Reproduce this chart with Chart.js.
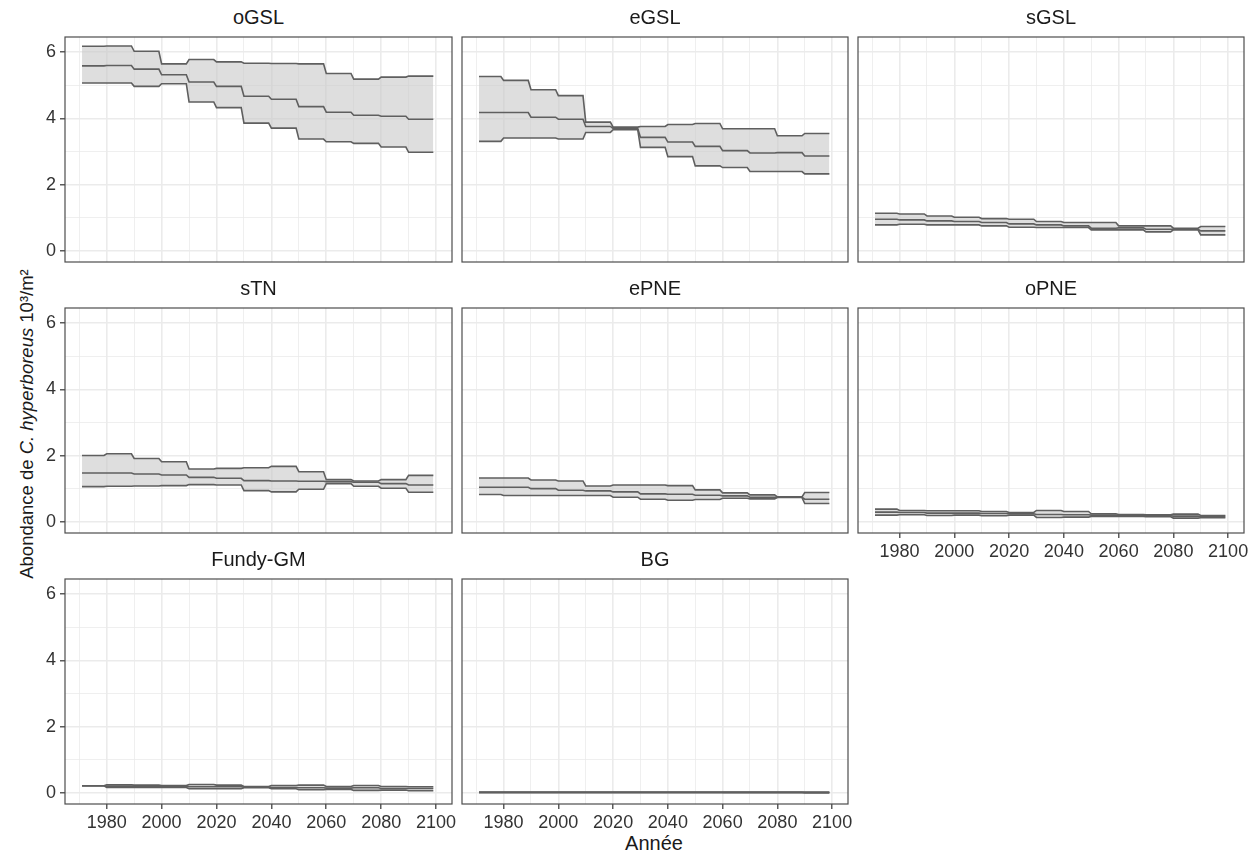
<!DOCTYPE html>
<html>
<head>
<meta charset="utf-8">
<script src="https://cdn.jsdelivr.net/npm/chart.js@4.4.1/dist/chart.umd.min.js"></script>
<style>
  body { margin: 0; background: #fff; width: 1257px; height: 856px; position: relative; overflow: hidden;
         font-family: "Liberation Sans", Arial, sans-serif; }
  canvas { position: absolute; }
  .strip { position: absolute; text-align: center; font-size: 20px; line-height: 20px; color: #1a1a1a; }
  .ytitle { position: absolute; left: 27px; top: 424px; transform: translate(-50%, -50%) rotate(-90deg);
            white-space: nowrap; font-size: 18.5px; color: #1a1a1a; }
  .xtitle { position: absolute; left: 654px; top: 843px; transform: translate(-50%, -50%);
            font-size: 20px; color: #1a1a1a; }
</style>
</head>
<body>
<div class="ytitle">Abondance de <i>C. hyperboreus</i> 10³/m²</div>
<div class="xtitle">Année</div>
<script>
// decade blocks (first one is partial)
const decadeStart = [1971, 1980, 1990, 2000, 2010, 2020, 2030, 2040, 2050, 2060, 2070, 2080, 2090];
const decadeEnd   = [1979, 1989, 1999, 2009, 2019, 2029, 2039, 2049, 2059, 2069, 2079, 2089, 2099];

const xTicks = [1970, 1980, 1990, 2000, 2010, 2020, 2030, 2040, 2050, 2060, 2070, 2080, 2090, 2100];
const yTicks = [0, 1, 2, 3, 4, 5, 6];

const oGSLHigh = [6.18, 6.19, 6.03, 5.65, 5.78, 5.71, 5.67, 5.66, 5.65, 5.36, 5.19, 5.25, 5.28];
const oGSLMean = [5.59, 5.60, 5.49, 5.32, 5.10, 4.97, 4.67, 4.58, 4.36, 4.19, 4.10, 4.07, 3.98];
const oGSLLow  = [5.07, 5.07, 4.97, 5.05, 4.50, 4.33, 3.86, 3.71, 3.38, 3.30, 3.25, 3.14, 2.98];

const eGSLHigh = [5.27, 5.15, 4.87, 4.69, 3.89, 3.74, 3.76, 3.82, 3.85, 3.69, 3.69, 3.48, 3.55];
const eGSLMean = [4.18, 4.18, 4.04, 3.98, 3.76, 3.70, 3.43, 3.29, 3.16, 3.03, 2.96, 2.97, 2.87];
const eGSLLow  = [3.31, 3.41, 3.41, 3.38, 3.58, 3.66, 3.13, 2.85, 2.57, 2.52, 2.40, 2.40, 2.33];

const sGSLHigh = [1.14, 1.12, 1.06, 1.02, 0.98, 0.96, 0.89, 0.86, 0.86, 0.76, 0.76, 0.69, 0.74];
const sGSLMean = [0.96, 0.94, 0.91, 0.89, 0.86, 0.82, 0.79, 0.76, 0.69, 0.70, 0.66, 0.66, 0.61];
const sGSLLow  = [0.79, 0.81, 0.79, 0.79, 0.76, 0.72, 0.71, 0.71, 0.64, 0.64, 0.58, 0.64, 0.49];

const sTNHigh = [2.01, 2.06, 1.92, 1.82, 1.60, 1.62, 1.64, 1.68, 1.52, 1.28, 1.24, 1.28, 1.41];
const sTNMean = [1.48, 1.48, 1.45, 1.42, 1.35, 1.32, 1.25, 1.24, 1.23, 1.22, 1.20, 1.16, 1.12];
const sTNLow  = [1.07, 1.08, 1.09, 1.10, 1.13, 1.12, 0.95, 0.91, 0.99, 1.16, 1.08, 1.02, 0.90];

const ePNEHigh = [1.33, 1.33, 1.27, 1.24, 1.09, 1.12, 1.12, 1.10, 0.97, 0.88, 0.82, 0.76, 0.89];
const ePNEMean = [1.05, 1.05, 1.01, 0.96, 0.94, 0.91, 0.85, 0.84, 0.81, 0.79, 0.75, 0.75, 0.69];
const ePNELow  = [0.83, 0.80, 0.80, 0.80, 0.80, 0.75, 0.69, 0.66, 0.68, 0.72, 0.70, 0.74, 0.56];

const oPNEHigh = [0.39, 0.35, 0.34, 0.34, 0.32, 0.29, 0.35, 0.32, 0.25, 0.23, 0.22, 0.24, 0.20];
const oPNEMean = [0.30, 0.29, 0.27, 0.27, 0.26, 0.25, 0.23, 0.22, 0.21, 0.20, 0.19, 0.18, 0.17];
const oPNELow  = [0.21, 0.22, 0.20, 0.21, 0.19, 0.21, 0.14, 0.15, 0.17, 0.17, 0.16, 0.12, 0.13];

const fundyHigh = [0.22, 0.25, 0.24, 0.23, 0.26, 0.24, 0.20, 0.23, 0.24, 0.20, 0.23, 0.20, 0.19];
const fundyMean = [0.22, 0.21, 0.21, 0.21, 0.19, 0.19, 0.18, 0.17, 0.16, 0.15, 0.16, 0.14, 0.14];
const fundyLow  = [0.22, 0.17, 0.17, 0.17, 0.13, 0.13, 0.16, 0.13, 0.10, 0.11, 0.08, 0.09, 0.07];

const bgHigh = [0.02, 0.02, 0.02, 0.02, 0.02, 0.02, 0.02, 0.02, 0.02, 0.03, 0.03, 0.03, 0.03];
const bgMean = [0.02, 0.02, 0.02, 0.02, 0.02, 0.02, 0.02, 0.02, 0.02, 0.02, 0.02, 0.02, 0.015];
const bgLow  = [0.02, 0.02, 0.02, 0.02, 0.02, 0.02, 0.02, 0.02, 0.02, 0.01, 0.01, 0.01, 0.005];

const regions = [
  { name: 'oGSL',     high: oGSLHigh,  mean: oGSLMean,  low: oGSLLow },
  { name: 'eGSL',     high: eGSLHigh,  mean: eGSLMean,  low: eGSLLow },
  { name: 'sGSL',     high: sGSLHigh,  mean: sGSLMean,  low: sGSLLow },
  { name: 'sTN',      high: sTNHigh,   mean: sTNMean,   low: sTNLow },
  { name: 'ePNE',     high: ePNEHigh,  mean: ePNEMean,  low: ePNELow },
  { name: 'oPNE',     high: oPNEHigh,  mean: oPNEMean,  low: oPNELow },
  { name: 'Fundy-GM', high: fundyHigh, mean: fundyMean, low: fundyLow },
  { name: 'BG',       high: bgHigh,    mean: bgMean,    low: bgLow }
];

// facet grid geometry
const colLeft = [65, 462, 858];
const colWidth = [387, 386, 386];
const rowTop = [37, 308, 579];
const panelH = 225;
const padL = 60, padR = 26, padT = 4, padB = 36;

Chart.defaults.font.family = "'Liberation Sans', Arial, sans-serif";
Chart.defaults.font.size = 18;
Chart.defaults.color = '#333';

const LINE = '#5f5f5f';
const BAND = 'rgba(200, 200, 200, 0.6)';
const GRID = '#ebebeb';

function steps(values) {
  const pts = [];
  values.forEach((v, i) => {
    pts.push({ x: decadeStart[i], y: v });
    pts.push({ x: decadeEnd[i], y: v });
  });
  return pts;
}

const panelFrame = {
  id: 'panelFrame',
  afterDraw(chart) {
    const { ctx, chartArea: a } = chart;
    ctx.save();
    ctx.strokeStyle = '#4d4d4d';
    ctx.lineWidth = 1.2;
    ctx.strokeRect(a.left, a.top, a.right - a.left, a.bottom - a.top);
    ctx.restore();
  }
};

regions.forEach((r, i) => {
  const col = i % 3, row = Math.floor(i / 3);
  const showY = col === 0;
  const showX = row === 2 || i === 5;
  const yw = showY ? 50 : 0;
  const xh = showX ? 28 : 0;

  const w = colWidth[col];
  const canvas = document.createElement('canvas');
  canvas.style.left = (colLeft[col] - padL) + 'px';
  canvas.style.top = (rowTop[row] - padT) + 'px';
  canvas.style.width = (w + padL + padR) + 'px';
  canvas.style.height = (panelH + padT + padB) + 'px';
  canvas.width = w + padL + padR;
  canvas.height = panelH + padT + padB;
  document.body.appendChild(canvas);

  const strip = document.createElement('div');
  strip.className = 'strip';
  strip.textContent = r.name;
  strip.style.left = colLeft[col] + 'px';
  strip.style.width = w + 'px';
  strip.style.top = (rowTop[row] - 30) + 'px';
  document.body.appendChild(strip);

  const lineDs = (label, values, extra) => Object.assign({
    label, data: steps(values), borderColor: LINE, borderWidth: 1.6,
    pointRadius: 0, tension: 0, fill: false, order: 1
  }, extra);

  new Chart(canvas, {
    type: 'line',
    data: {
      datasets: [
        lineDs('low', r.low),
        lineDs('high', r.high, { fill: 0, backgroundColor: BAND }),
        // mean on top of the ribbon
        lineDs('mean', r.mean, { order: 0 })
      ]
    },
    options: {
      responsive: false,
      animation: false,
      events: [],
      layout: { padding: { left: padL - yw, right: padR, top: padT, bottom: padB - xh } },
      plugins: { legend: { display: false }, tooltip: { enabled: false } },
      scales: {
        x: {
          type: 'linear', min: 1964.8, max: 2105.8,
          afterBuildTicks: axis => { axis.ticks = xTicks.map(v => ({ value: v })); },
          afterFit: axis => { axis.height = xh; axis.paddingLeft = 0; axis.paddingRight = 0; },
          border: { display: false },
          grid: {
            color: GRID,
            lineWidth: ctx => (ctx.tick && ctx.tick.value % 20 === 0 ? 1.6 : 0.8),
            drawTicks: showX, tickLength: 5,
            tickColor: ctx => (ctx.tick && ctx.tick.value % 20 === 0 ? '#333' : 'rgba(0,0,0,0)'),
            tickWidth: 1.2
          },
          ticks: {
            display: showX, autoSkip: false, maxRotation: 0, padding: 3,
            callback: v => (v % 20 === 0 ? String(v) : '')
          }
        },
        y: {
          type: 'linear', min: -0.33, max: 6.46,
          afterBuildTicks: axis => { axis.ticks = yTicks.map(v => ({ value: v })); },
          afterFit: axis => { axis.width = yw; axis.paddingTop = 0; axis.paddingBottom = 0; },
          border: { display: false },
          grid: {
            color: GRID,
            lineWidth: ctx => (ctx.tick && ctx.tick.value % 2 === 0 ? 1.6 : 0.8),
            drawTicks: showY, tickLength: 5,
            tickColor: ctx => (ctx.tick && ctx.tick.value % 2 === 0 ? '#333' : 'rgba(0,0,0,0)'),
            tickWidth: 1.2
          },
          ticks: {
            display: showY, autoSkip: false, padding: 4,
            callback: v => (v % 2 === 0 ? String(v) : '')
          }
        }
      }
    },
    plugins: [panelFrame]
  });
});
</script>
</body>
</html>
